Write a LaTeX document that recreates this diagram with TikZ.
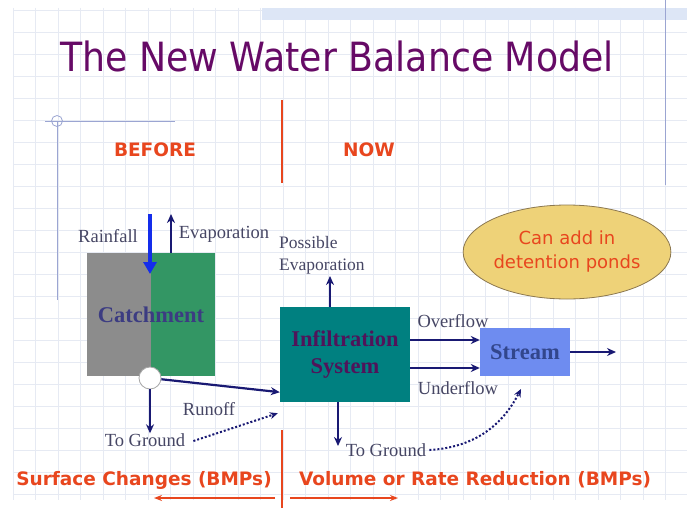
\documentclass[tikz,border=0pt]{standalone}
\usepackage{fontspec}
\setmainfont{Liberation Serif}
\setsansfont{DejaVu Sans}
\usetikzlibrary{arrows.meta, shapes.geometric}

\definecolor{titlepurple}{RGB}{102,10,102}
\definecolor{redorange}{RGB}{232,70,30}
\definecolor{navyflow}{RGB}{25,25,115}
\definecolor{rainblue}{RGB}{20,45,235}
\definecolor{labelgray}{RGB}{70,70,100}
\definecolor{catchgray}{RGB}{140,140,140}
\definecolor{catchgreen}{RGB}{51,150,100}
\definecolor{catchtext}{RGB}{60,60,130}
\definecolor{infilteal}{RGB}{0,128,128}
\definecolor{infiltext}{RGB}{80,20,90}
\definecolor{streamblue}{RGB}{110,140,240}
\definecolor{streamtext}{RGB}{50,70,140}
\definecolor{pondfill}{RGB}{238,210,120}
\definecolor{pondline}{RGB}{140,120,80}
\definecolor{gridblue}{RGB}{230,234,243}
\definecolor{decoblue}{RGB}{155,165,210}
\definecolor{bandblue}{RGB}{221,230,246}

\begin{document}
\begin{tikzpicture}[x=1pt, y=-1pt,
    box/.style={rectangle, inner sep=0pt, font=\rmfamily\bfseries\fontsize{22.5}{25}\selectfont, align=center},
    lbl/.style={inner sep=0pt, text=labelgray, font=\rmfamily\fontsize{18.5}{21}\selectfont},
    redlbl/.style={inner sep=0pt, text=redorange, font=\sffamily\bfseries\fontsize{18.5}{21}\selectfont},
    flow/.style={navyflow, line width=2.2pt, -{Stealth[length=9pt, width=8pt]}},
    dotflow/.style={navyflow, line width=2pt, dotted, -{Stealth[length=8pt, width=7pt]}},
    redline/.style={redorange, line width=2pt}]

    % Background
    \useasboundingbox (0,0) rectangle (687,508);
    \fill[white] (0,0) rectangle (687,508);
    \foreach \gx in {0,...,29} \draw[gridblue, line width=0.6pt] (13+22.5*\gx,8) -- (13+22.5*\gx,500);
    \foreach \gy in {0,...,22} \draw[gridblue, line width=0.6pt] (13,10+22*\gy) -- (687,10+22*\gy);
    \fill[bandblue] (262,8) rectangle (687,20);
    \draw[decoblue, line width=0.8pt] (665,0) -- (665,185);
    \draw[decoblue, line width=0.8pt] (45,121) -- (175,121);
    \draw[decoblue, line width=0.8pt] (57,121) -- (57,300);
    \draw[decoblue, line width=0.8pt] (57,121) circle (5.5);

    % Title
    \node[inner sep=0pt, text=titlepurple, font=\sffamily\fontsize{38}{44}\selectfont] (title) at (337,56)
        {\scalebox{0.955}[1.06]{The New Water Balance Model}};

    % Before / now
    \node[redlbl] (before) at (155,150) {BEFORE};
    \node[redlbl] (now) at (369,150) {NOW};
    \coordinate (divTop) at (282,100);
    \coordinate (divMid) at (282,183);
    \coordinate (divLow) at (282,430);
    \coordinate (divEnd) at (282,508);
    \draw[redline] (divTop) -- (divMid);
    \draw[redline] (divLow) -- (divEnd);

    % Nodes
    \node[box, fill=catchgreen, text=catchtext, minimum width=128pt, minimum height=123pt,
        path picture={\fill[catchgray] (path picture bounding box.north west) rectangle (path picture bounding box.south);}]
        (catch) at (151,314.5) {Catchment};
    \node[circle, draw=gray!70, fill=white, line width=0.8pt, minimum size=22pt, inner sep=0pt] (junc) at (150,378) {};
    \node[box, fill=infilteal, text=infiltext, minimum width=130pt, minimum height=95pt,
        font=\rmfamily\bfseries\fontsize{22.5}{27}\selectfont] (infil) at (345,354.5) {Infiltration\\System};
    \node[box, fill=streamblue, text=streamtext, minimum width=90pt, minimum height=48pt] (stream) at (525,352) {Stream};
    \node[ellipse, draw=pondline, fill=pondfill, line width=0.8pt, minimum width=180pt, minimum height=94pt, inner sep=0pt,
        align=center, text=redorange, font=\sffamily\fontsize{18}{24}\selectfont] (pond) at (567,252) {Can add in\\detention ponds};

    % Labels
    \node[lbl] (rain) at (108,236) {Rainfall};
    \node[lbl] (evap) at (224,234) {Evaporation};
    \node[lbl, align=left, anchor=north west, font=\rmfamily\fontsize{17.5}{22}\selectfont] (pevap) at (279,236) {Possible\\Evaporation};
    \node[lbl] (gnd1) at (145,440) {To Ground};
    \node[lbl] (runoff) at (209,409) {Runoff};
    \node[lbl] (over) at (453,321) {Overflow};
    \node[lbl] (under) at (458,388) {Underflow};
    \node[lbl] (gnd2) at (386,450) {To Ground};
    \node[redlbl] (surf) at (144,480) {Surface Changes (BMPs)};
    \node[redlbl] (vol) at (475,480) {Volume or Rate Reduction (BMPs)};

    % Edges
    \coordinate (rainTop) at (150,214);
    \coordinate (rainEnd) at (150,274);
    \coordinate (evapTop) at (171,214);
    \coordinate (pevapEnd) at (330,276);
    \coordinate (ovIn) at ([yshift=12pt]stream.west);
    \coordinate (unIn) at ([yshift=-16pt]stream.west);
    \coordinate (streamOut) at (616,352);
    \coordinate (gnd2End) at (338,446);
    \coordinate (dotEnd) at (521,389);
    \coordinate (leftEnd) at (154,498);
    \coordinate (rightEnd) at (398,498);
    \draw[rainblue, line width=4pt, -{Triangle[length=12pt, width=13pt]}] (rainTop) -- (rainEnd);
    \draw[flow] (evapTop |- catch.north) -- (evapTop);
    \draw[flow] (junc) -- (junc |- gnd1.north);
    \draw[flow] (junc) -- ([yshift=10pt]infil.south west);
    \draw[dotflow] ([xshift=8pt, yshift=-1pt]gnd1.east) -- ([xshift=-2pt, yshift=-11pt]infil.south west);
    \draw[flow] (pevapEnd |- infil.north) -- (pevapEnd);
    \draw[flow] (infil.east |- ovIn) -- (ovIn);
    \draw[flow] (infil.east |- unIn) -- (unIn);
    \draw[flow] (stream.east) -- (streamOut);
    \draw[flow] (gnd2End |- infil.south) -- (gnd2End);
    \draw[dotflow] ([xshift=3pt]gnd2.east) .. controls (480,447) and (505,420) .. (dotEnd);
    \draw[redline, -{Stealth[length=8pt, width=6pt]}] ([xshift=-7pt]divEnd |- leftEnd) -- (leftEnd);
    \draw[redline, -{Stealth[length=8pt, width=6pt]}] ([xshift=8pt]divEnd |- rightEnd) -- (rightEnd);

\end{tikzpicture}
\end{document}
